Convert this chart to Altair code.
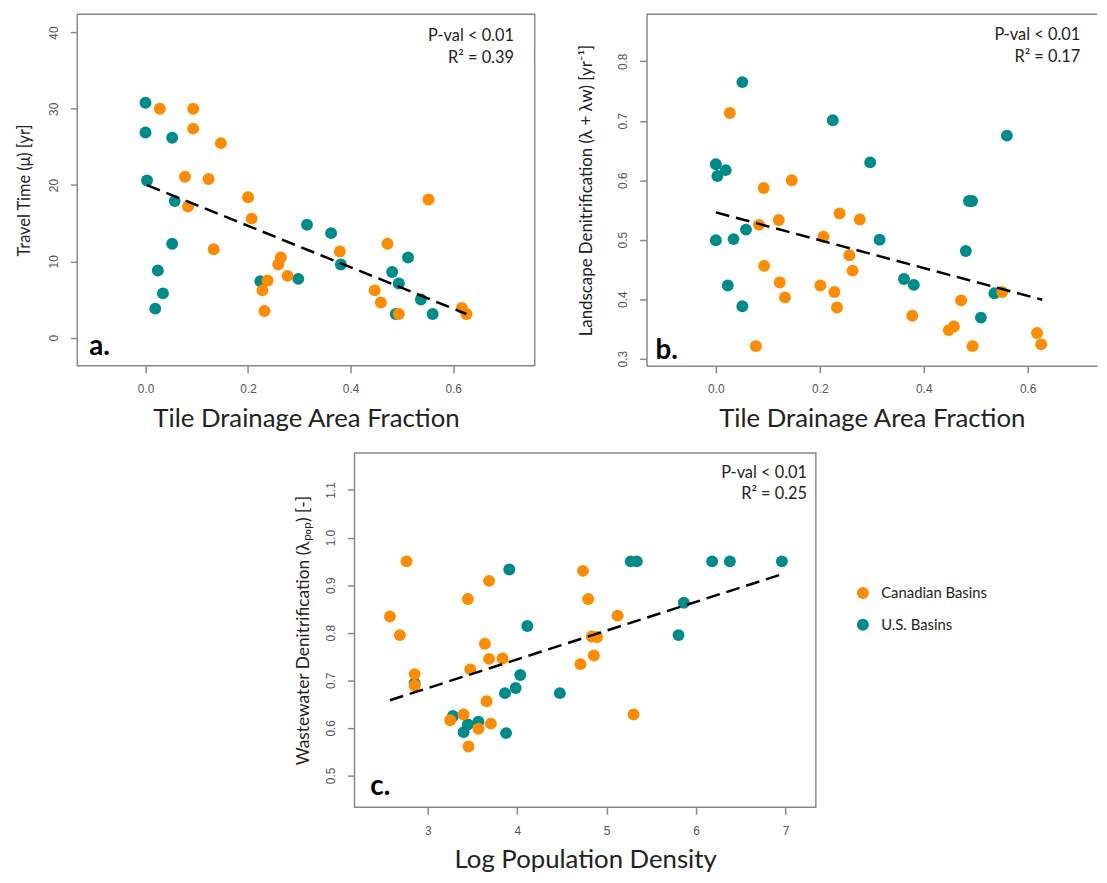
import altair as alt
import pandas as pd

ORANGE = "#FF8C00"
TEAL = "#008B8B"
BASINS = ["Canadian Basins", "U.S. Basins"]

# ---------------- Panel a: travel time vs tile drainage ----------------
a_us_x = [0.000, 0.000, 0.052, 0.003, 0.057, 0.052, 0.024, 0.034, 0.019, 0.224,
          0.298, 0.315, 0.362, 0.381, 0.481, 0.494, 0.512, 0.488, 0.537, 0.560]
a_us_y = [30.8, 26.9, 26.2, 20.6, 17.9, 12.3, 8.8, 5.8, 3.8, 7.4,
          7.7, 14.8, 13.7, 9.6, 8.6, 7.1, 10.5, 3.1, 5.0, 3.1]
a_can_x = [0.028, 0.093, 0.093, 0.147, 0.077, 0.123, 0.083, 0.133, 0.200, 0.207,
           0.264, 0.259, 0.277, 0.238, 0.228, 0.232, 0.379, 0.472, 0.552, 0.447,
           0.459, 0.494, 0.617, 0.626]
a_can_y = [30.0, 30.0, 27.4, 25.5, 21.1, 20.8, 17.2, 11.6, 18.4, 15.6,
           10.5, 9.6, 8.1, 7.5, 6.2, 3.5, 11.3, 12.3, 18.1, 6.2,
           4.6, 3.1, 3.9, 3.1]
a_fit_x = [0.003, 0.626]
a_fit_y = [20.0, 3.1]

# ---------------- Panel b: landscape denitrification ----------------
b_us_x = [0.051, 0.225, 0.560, 0.297, 0.000, 0.019, 0.003, 0.487, 0.493, 0.058,
          0.000, 0.034, 0.315, 0.481, 0.362, 0.381, 0.023, 0.051, 0.536, 0.510]
b_us_y = [0.765, 0.701, 0.675, 0.630, 0.627, 0.617, 0.607, 0.565, 0.565, 0.517,
          0.499, 0.501, 0.500, 0.481, 0.434, 0.424, 0.423, 0.388, 0.410, 0.369]
b_can_x = [0.027, 0.092, 0.146, 0.238, 0.277, 0.121, 0.083, 0.207, 0.257, 0.263,
           0.093, 0.123, 0.133, 0.201, 0.228, 0.233, 0.077, 0.378, 0.472, 0.448,
           0.458, 0.494, 0.551, 0.618, 0.626]
b_can_y = [0.713, 0.587, 0.600, 0.544, 0.534, 0.533, 0.525, 0.505, 0.474, 0.448,
           0.456, 0.428, 0.403, 0.423, 0.412, 0.386, 0.321, 0.372, 0.398, 0.348,
           0.354, 0.321, 0.412, 0.343, 0.324]
b_fit_x = [0.000, 0.628]
b_fit_y = [0.546, 0.399]

# ---------------- Panel c: wastewater denitrification ----------------
c_us_x = [3.911, 5.269, 5.337, 6.180, 6.378, 6.960, 5.863, 4.113, 5.804, 4.034,
          3.982, 3.863, 4.477, 2.853, 3.281, 3.400, 3.448, 3.566, 3.875]
c_us_y = [0.933, 0.950, 0.950, 0.950, 0.950, 0.950, 0.863, 0.814, 0.795, 0.711,
          0.684, 0.673, 0.673, 0.694, 0.625, 0.591, 0.607, 0.613, 0.589]
c_can_x = [2.762, 2.576, 2.687, 2.853, 2.853, 3.448, 3.685, 3.475, 3.638, 3.685,
           3.836, 3.657, 3.400, 3.250, 3.566, 3.705, 3.455, 4.735, 4.794, 5.123,
           4.834, 4.893, 4.707, 4.857, 5.301]
c_can_y = [0.950, 0.834, 0.795, 0.713, 0.689, 0.871, 0.909, 0.723, 0.777, 0.745,
           0.746, 0.656, 0.628, 0.616, 0.598, 0.609, 0.561, 0.930, 0.871, 0.836,
           0.792, 0.791, 0.734, 0.752, 0.628]
c_fit_x = [2.576, 6.960]
c_fit_y = [0.658, 0.923]

FRAME = "#888888"
LABEL_COLOR = "#555555"
TEXT_COLOR = "#222222"


def panel(us_x, us_y, can_x, can_y, fit_x, fit_y, xdom, ydom, xticks, yticks,
          xfmt, yfmt, xtitle, ytitle, w, h, stats, stat_xy, letter, letter_xy,
          ytitle_pad, ytitle_size, legend, open_right=False):
    pts = pd.DataFrame({
        "x": list(us_x) + list(can_x),
        "y": list(us_y) + list(can_y),
        "basin": [BASINS[1]] * len(us_x) + [BASINS[0]] * len(can_x),
    })
    fit = pd.DataFrame({"x": fit_x, "y": fit_y})

    xaxis = alt.Axis(values=xticks, format=xfmt, title=xtitle, grid=False,
                     domain=open_right, domainColor=FRAME, domainWidth=1.5,
                     tickSize=7, tickColor=FRAME, tickWidth=1.5,
                     labelFont="Liberation Sans", labelFontSize=12,
                     labelColor=LABEL_COLOR, labelPadding=11,
                     titleFont="Lato", titleFontSize=26, titleFontWeight="normal",
                     titleColor=TEXT_COLOR, titlePadding=11)
    yaxis = alt.Axis(values=yticks, format=yfmt, title=ytitle, grid=False,
                     domain=open_right, domainColor=FRAME, domainWidth=1.5,
                     tickSize=7, tickColor=FRAME, tickWidth=1.5,
                     labelFont="Liberation Sans", labelFontSize=12,
                     labelColor=LABEL_COLOR, labelPadding=10, labelAngle=270,
                     labelAlign="center", labelBaseline="bottom",
                     titleFont="Lato", titleFontSize=ytitle_size,
                     titleFontWeight="normal",
                     titleColor=TEXT_COLOR, titlePadding=ytitle_pad)
    xs = alt.Scale(domain=xdom, nice=False, zero=False)
    ys = alt.Scale(domain=ydom, nice=False, zero=False)

    color = alt.Color("basin:N", scale=alt.Scale(domain=BASINS, range=[ORANGE, TEAL]),
                      legend=legend)

    points = alt.Chart(pts).mark_circle(size=145, opacity=1).encode(
        x=alt.X("x:Q", scale=xs, axis=xaxis),
        y=alt.Y("y:Q", scale=ys, axis=yaxis),
        color=color,
    )
    line = alt.Chart(fit).mark_line(color="black", strokeWidth=2.5,
                                    strokeDash=[14, 7]).encode(
        x=alt.X("x:Q", scale=xs), y=alt.Y("y:Q", scale=ys))

    st = alt.Chart(pd.DataFrame({"t": [stats]})).mark_text(
        align="right", baseline="alphabetic", font="Lato", fontSize=16.5,
        color=TEXT_COLOR, lineBreak="\n", lineHeight=22).encode(
        text="t:N", x=alt.value(stat_xy[0]), y=alt.value(stat_xy[1]))
    lt = alt.Chart(pd.DataFrame({"t": [letter]})).mark_text(
        align="left", baseline="alphabetic", font="Lato", fontSize=28,
        fontWeight="bold", color="black").encode(
        text="t:N", x=alt.value(letter_xy[0]), y=alt.value(letter_xy[1]))

    layers = [points, line, st, lt]
    if open_right:
        top = alt.Chart(pd.DataFrame({"v": [0]})).mark_rule(
            color=FRAME, strokeWidth=1.5).encode(
            x=alt.value(0), x2=alt.value(w), y=alt.value(0))
        layers.append(top)
        view = alt.ViewBackground(stroke="transparent")
    else:
        view = alt.ViewBackground(stroke=FRAME, strokeWidth=1.5)
    return alt.layer(*layers).properties(width=w, height=h, view=view)


pa = panel(a_us_x, a_us_y, a_can_x, a_can_y, a_fit_x, a_fit_y,
           [-0.133, 0.759], [-3.69, 42.39], [0, 0.2, 0.4, 0.6], [0, 10, 20, 30, 40],
           ".1f", "d", "Tile Drainage Area Fraction", "Travel Time (μ) [yr]",
           462, 355, "P-val < 0.01\nR² = 0.39", (441, 27), "a.", (12, 344),
           15, 16.5, None)

pb = panel(b_us_x, b_us_y, b_can_x, b_can_y, b_fit_x, b_fit_y,
           [-0.1333, 0.7334], [0.288, 0.879], [0, 0.2, 0.4, 0.6],
           [0.3, 0.4, 0.5, 0.6, 0.7, 0.8], ".1f", ".1f",
           "Tile Drainage Area Fraction",
           "Landscape Denitrification (λ + λw) [yr⁻¹]",
           455, 355, "P-val < 0.01\nR² = 0.17", (438, 26), "b.", (9, 348),
           22, 17, None, open_right=True)

legend_c = alt.Legend(orient="none", legendX=506, legendY=134, title=None,
                      labelFont="Lato", labelFontSize=15, labelColor=TEXT_COLOR,
                      symbolSize=145, symbolType="circle", symbolStrokeWidth=0,
                      rowPadding=16, labelOffset=11, padding=0)

pc = panel(c_us_x, c_us_y, c_can_x, c_can_y, c_fit_x, c_fit_y,
           [2.18, 7.34], [0.433, 1.178], [3, 4, 5, 6, 7],
           [0.5, 0.6, 0.7, 0.8, 0.9, 1.0, 1.1], "d", ".1f",
           "Log Population Density",
           "Wastewater Denitrification (λₚₒₚ) [-]",
           466, 358, "P-val < 0.01\nR² = 0.25", (457, 25), "c.", (16, 346),
           12, 17.5, legend_c)

spacer = alt.Chart(pd.DataFrame({"v": [0]})).mark_point(opacity=0).properties(
    width=218, height=10, view=alt.ViewBackground(stroke="transparent"))

row1 = alt.hconcat(pa, pb, spacing=41).resolve_scale(color="independent").resolve_legend(color="independent")
row2 = alt.hconcat(spacer, pc, spacing=0).resolve_scale(color="independent").resolve_legend(color="independent")

chart = alt.vconcat(row1, row2, spacing=20).resolve_scale(
    color="independent").resolve_legend(color="independent").properties(
    padding={"left": 8, "top": 0, "right": 0, "bottom": 0}
).configure(background="white")

chart.save("out.html", embed_options={"renderer": "svg", "actions": False})
